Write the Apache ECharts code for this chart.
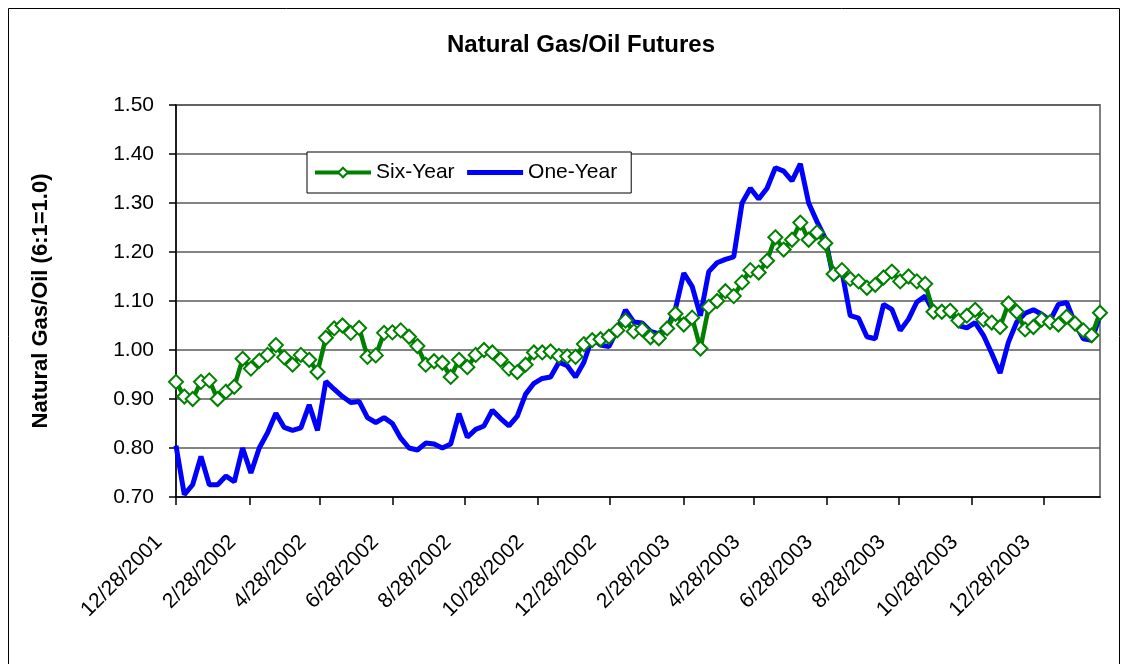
<!DOCTYPE html>
<html>
<head>
<meta charset="UTF-8">
<title>Natural Gas/Oil Futures</title>
<script src="https://cdn.jsdelivr.net/npm/echarts@6/dist/echarts.min.js"></script>
<style>html,body{margin:0;padding:0;background:#fff}</style>
</head>
<body>
<div id="container" style="width:1128px;height:664px"></div>
<script>
// weekly observations, first one on 12/28/2001
var firstDay = [2001, 11, 28];

var xLabels = ['12/28/2001', '2/28/2002', '4/28/2002', '6/28/2002', '8/28/2002',
    '10/28/2002', '12/28/2002', '2/28/2003', '4/28/2003', '6/28/2003',
    '8/28/2003', '10/28/2003', '12/28/2003'];

var sixYear = [0.935, 0.905, 0.900, 0.935, 0.938, 0.900, 0.915, 0.925, 0.982, 0.962,
    0.978, 0.990, 1.010, 0.985, 0.970, 0.990, 0.980, 0.955, 1.025, 1.044,
    1.050, 1.035, 1.045, 0.986, 0.989, 1.035, 1.036, 1.040, 1.027, 1.008,
    0.970, 0.977, 0.974, 0.945, 0.980, 0.965, 0.990, 1.000, 0.995, 0.980,
    0.962, 0.955, 0.970, 0.995, 0.995, 0.997, 0.988, 0.987, 0.986, 1.012,
    1.020, 1.022, 1.027, 1.040, 1.060, 1.038, 1.042, 1.026, 1.024, 1.044,
    1.074, 1.052, 1.066, 1.003, 1.088, 1.100, 1.120, 1.110, 1.138, 1.163,
    1.158, 1.182, 1.230, 1.205, 1.225, 1.260, 1.225, 1.240, 1.218, 1.155,
    1.163, 1.145, 1.140, 1.127, 1.133, 1.148, 1.160, 1.140, 1.150, 1.140,
    1.135, 1.078, 1.078, 1.080, 1.060, 1.070, 1.082, 1.062, 1.056, 1.047,
    1.095, 1.078, 1.042, 1.047, 1.062, 1.057, 1.052, 1.068, 1.054, 1.040,
    1.030, 1.076];

var oneYear = [0.805, 0.705, 0.725, 0.783, 0.725, 0.725, 0.743, 0.731, 0.800, 0.749,
    0.800, 0.831, 0.871, 0.842, 0.836, 0.841, 0.888, 0.836, 0.936, 0.920,
    0.905, 0.893, 0.895, 0.862, 0.852, 0.862, 0.850, 0.820, 0.800, 0.796,
    0.810, 0.808, 0.800, 0.808, 0.870, 0.822, 0.838, 0.845, 0.877, 0.860,
    0.845, 0.865, 0.910, 0.932, 0.942, 0.945, 0.975, 0.968, 0.945, 0.975,
    1.025, 1.010, 1.007, 1.040, 1.082, 1.057, 1.055, 1.038, 1.033, 1.044,
    1.084, 1.157, 1.130, 1.070, 1.160, 1.178, 1.185, 1.190, 1.300, 1.330,
    1.308, 1.330, 1.372, 1.365, 1.345, 1.380, 1.300, 1.262, 1.228, 1.145,
    1.160, 1.070, 1.065, 1.027, 1.023, 1.093, 1.083, 1.040, 1.063, 1.098,
    1.110, 1.078, 1.078, 1.080, 1.050, 1.045, 1.056, 1.030, 0.993, 0.953,
    1.016, 1.057, 1.075, 1.082, 1.073, 1.060, 1.093, 1.097, 1.054, 1.023,
    1.020, 1.070];

// x is counted in days since the first observation
var DAY = 86400000;
var t0 = Date.UTC(firstDay[0], firstDay[1], firstDay[2]);
function labelDay(s) {
    var p = s.split('/');
    return Math.round((Date.UTC(+p[2], +p[0] - 1, +p[1]) - t0) / DAY);
}
var tickDays = xLabels.map(labelDay);

function pairs(arr) {
    return arr.map(function (v, i) { return [7 * i, v]; });
}

var font = "'Liberation Sans', Arial, sans-serif";
var myChart = echarts.init(document.getElementById('container'));

var option = {
    animation: false,
    backgroundColor: '#fff',
    textStyle: { fontFamily: font, color: '#000' },
    title: {
        text: 'Natural Gas/Oil Futures',
        left: 576,
        textAlign: 'center',
        top: 28,
        textStyle: { fontFamily: font, fontSize: 24, fontWeight: 'bold', color: '#000' }
    },
    graphic: [{
        type: 'rect',
        shape: { x: 8.5, y: 8.5, width: 1111, height: 700 },
        style: { fill: 'none', stroke: '#000', lineWidth: 1 },
        silent: true
    }],
    legend: {
        data: [
            { name: 'Six-Year', lineStyle: { width: 4 } },
            { name: 'One-Year', lineStyle: { width: 5 }, itemStyle: { opacity: 0 } }
        ],
        left: 307,
        top: 152,
        orient: 'horizontal',
        backgroundColor: '#fff',
        borderColor: '#000',
        borderWidth: 1,
        padding: [10, 14, 10, 6],
        itemWidth: 56,
        itemHeight: 12,
        itemGap: 10,
        textStyle: { fontFamily: font, fontSize: 21, color: '#000' }
    },
    grid: {
        left: 176,
        right: 28,
        top: 105,
        bottom: 167,
        show: true,
        borderColor: '#808080',
        borderWidth: 2,
        backgroundColor: '#fff'
    },
    xAxis: {
        type: 'value',
        min: 0,
        max: 7 * (sixYear.length - 1),
        axisLine: { lineStyle: { color: '#000', width: 1.5 } },
        axisTick: {
            customValues: tickDays,
            length: 8,
            lineStyle: { color: '#000', width: 1.5 }
        },
        splitLine: { show: false },
        axisLabel: {
            customValues: tickDays,
            rotate: 45,
            margin: 25,
            padding: [0, 24, 0, 0],
            fontFamily: font,
            fontSize: 21,
            color: '#000',
            formatter: function (value) {
                var k = tickDays.indexOf(Math.round(value));
                return k >= 0 ? xLabels[k] : '';
            }
        }
    },
    yAxis: {
        type: 'value',
        min: 0.7,
        max: 1.5,
        interval: 0.1,
        name: 'Natural Gas/Oil (6:1=1.0)',
        nameLocation: 'middle',
        nameGap: 124,
        nameTextStyle: { fontFamily: font, fontSize: 22, fontWeight: 'bold', color: '#000' },
        axisLine: { show: true, lineStyle: { color: '#000', width: 1.5 } },
        axisTick: { show: true, length: 7, lineStyle: { color: '#000', width: 1.5 } },
        splitLine: { lineStyle: { color: '#5a5a5a', width: 1.5 } },
        axisLabel: {
            margin: 22,
            fontFamily: font,
            fontSize: 21,
            color: '#000',
            formatter: function (v) { return v.toFixed(2); }
        }
    },
    series: [
        {
            name: 'One-Year',
            type: 'line',
            data: pairs(oneYear),
            symbol: 'none',
            color: '#0000ff',
            lineStyle: { color: '#0000ff', width: 5 },
            z: 2
        },
        {
            name: 'Six-Year',
            type: 'line',
            data: pairs(sixYear),
            symbol: 'diamond',
            symbolSize: 14,
            showAllSymbol: true,
            color: '#008000',
            lineStyle: { color: '#008000', width: 4.5 },
            itemStyle: { color: '#ffffff', borderColor: '#008000', borderWidth: 2 },
            z: 3
        }
    ]
};
myChart.setOption(option);
</script>
</body>
</html>
